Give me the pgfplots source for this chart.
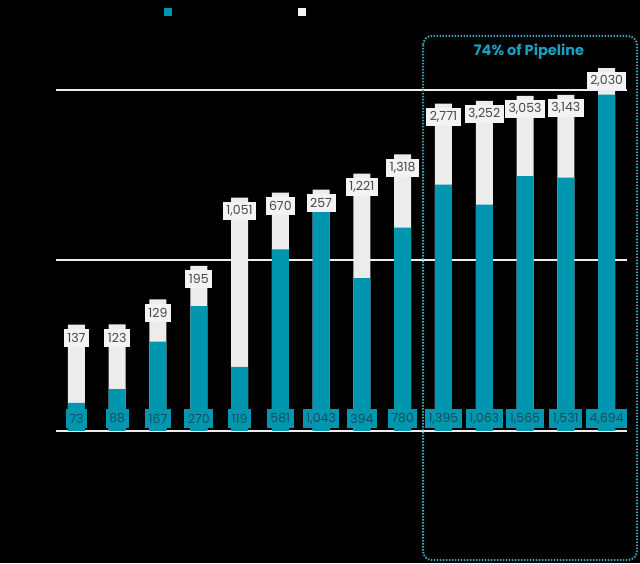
\documentclass[border=0pt]{standalone}
\usepackage{pgfplots}
\pgfplotsset{compat=1.18}
\usepackage{pgfplotstable}
\usepackage{fontspec}
\setmainfont{Poppins}

\definecolor{tealbar}{RGB}{0,150,176}
\definecolor{tealtxt}{RGB}{22,78,94}
\definecolor{graybar}{RGB}{236,236,236}
\definecolor{graylbl}{RGB}{243,243,243}
\definecolor{boxteal}{RGB}{58,166,190}
\definecolor{titleteal}{RGB}{26,160,189}

% blue = operating, gray = pipeline
\pgfplotstableread{
x blue gray
0 73 137
1 88 123
2 167 129
3 270 195
4 119 1051
5 581 670
6 1043 257
7 394 1221
8 780 1318
9 1395 2771
10 1063 3252
11 1565 3053
12 1531 3143
13 4694 2030
}\pipeline

\begin{document}
\begin{tikzpicture}
\fill[black] (-56pt,-132pt) rectangle (584pt,431pt);
\begin{axis}[
  scale only axis, width=571pt, height=396pt,
  xmin=-0.5, xmax=13.5,
  ymode=log, ymin=50, ymax=10510,
  ybar, bar width=17pt,
  axis line style={draw=none},
  tick style={draw=none},
  xtick=\empty,
  ytick={50,500,5000}, yticklabels={},
  ymajorgrids,
  major grid style={color=white!93!black, line width=2pt},
  /pgf/number format/assume math mode=true,
  /pgf/number format/1000 sep={,},
  legend image code/.code={\fill[#1] (0pt,-4pt) rectangle (8pt,4pt);},
  legend columns=2,
  legend style={at={(axis description cs:0.189,1.057)}, anchor=west,
    draw=none, fill=none, inner sep=0pt, text=black,
    font=\fontsize{10}{12}\selectfont},
]
\addlegendimage{fill=tealbar, draw=none}
\addlegendentry{\makebox[122pt][l]{Operating}}
\addlegendimage{fill=graylbl, draw=none}
\addlegendentry{Pipeline}

\addplot[bar shift=0pt, fill=graybar, draw=none, forget plot,
  point meta=explicit, nodes near coords,
  every node near coord/.append style={anchor=north, yshift=-4pt,
    fill=graylbl, text=black!72, font=\fontsize{12.5}{14}\selectfont,
    inner xsep=3.5pt, inner ysep=0pt, minimum height=18pt}]
  table[x=x, y expr=\thisrow{blue}+\thisrow{gray}, meta=gray] {\pipeline};

\addplot[bar shift=0pt, fill=tealbar, draw=none, forget plot]
  table[x=x, y=blue] {\pipeline};

\addplot[bar shift=0pt, draw=none, fill=none, forget plot,
  point meta=explicit, nodes near coords,
  every node near coord/.append style={anchor=center,
    fill=tealbar, text=tealtxt, font=\fontsize{12.5}{14}\selectfont,
    inner xsep=3.5pt, inner ysep=0pt, minimum height=19pt}]
  table[x=x, y expr=59.2, meta=blue] {\pipeline};
\end{axis}
\draw[boxteal, line width=2pt, dash pattern=on 1.5pt off 1.5pt, rounded corners=9pt]
  (367pt,395pt) rectangle (581pt,-129pt);
\node[text=titleteal, font=\bfseries\fontsize{14.5}{16}\selectfont] at (473pt,379pt) {74\% of Pipeline};
\end{tikzpicture}
\end{document}
